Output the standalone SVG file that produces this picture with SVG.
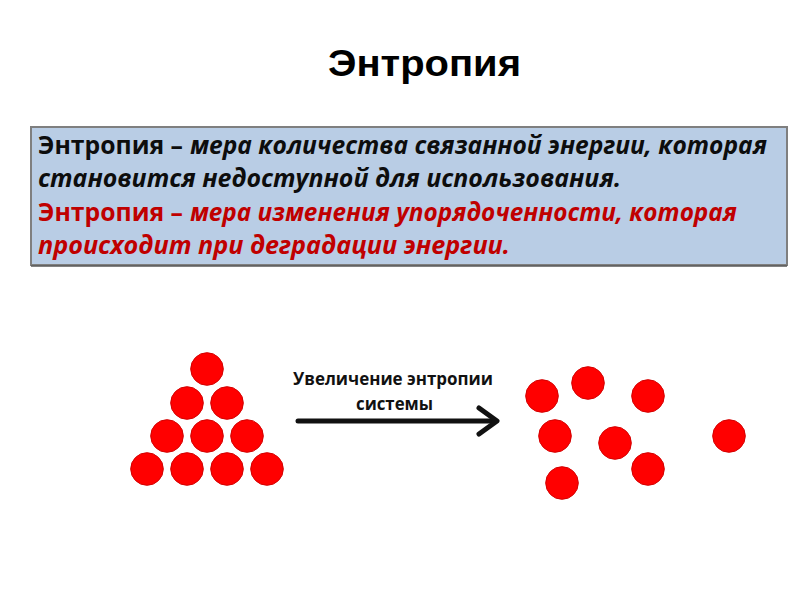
<svg xmlns="http://www.w3.org/2000/svg" width="797" height="600" viewBox="0 0 797 600">
<defs>
<style>
.title{font-family:"Liberation Sans",Arial,sans-serif;font-weight:bold;font-size:36px;fill:#000}
.def{font-family:"Open Sans","Noto Sans",sans-serif;font-weight:bold;font-size:24.5px}
.it{font-style:italic}
.blk{fill:#0d0d0d}
.red{fill:#c00000}
.lbl{font-family:"Open Sans","Noto Sans",sans-serif;font-weight:bold;font-size:18px;fill:#111}
.ball{fill:#ff0000;stroke:#d40000;stroke-width:1}
.conn{fill:none;stroke:#111;stroke-width:5;stroke-linecap:round;stroke-linejoin:round}
</style>
</defs>
<rect width="797" height="600" fill="#ffffff"/>
<g id="title">
<text class="title" x="328" y="76" textLength="193" lengthAdjust="spacingAndGlyphs">Энтропия</text>
</g>
<g id="definition-box">
<rect x="31" y="127" width="756" height="138" fill="#b9cde5" stroke="#7f7f7f" stroke-width="2"/>
<line x1="31" y1="266" x2="787" y2="266" stroke="#595959" stroke-width="1.5"/>
<text class="def blk" x="38" y="154" textLength="145" lengthAdjust="spacingAndGlyphs">Энтропия –</text>
<text class="def it blk" x="190" y="154" textLength="577" lengthAdjust="spacingAndGlyphs">мера количества связанной энергии, которая</text>
<text class="def it blk" x="38" y="187" textLength="583" lengthAdjust="spacingAndGlyphs">становится недоступной для использования.</text>
<text class="def red" x="38" y="221" textLength="145" lengthAdjust="spacingAndGlyphs">Энтропия –</text>
<text class="def it red" x="190" y="221" textLength="547" lengthAdjust="spacingAndGlyphs">мера изменения упорядоченности, которая</text>
<text class="def it red" x="38" y="254" textLength="472" lengthAdjust="spacingAndGlyphs">происходит при деградации энергии.</text>
</g>
<g id="ordered-system">
<circle class="ball" cx="207" cy="369" r="16.3"/>
<circle class="ball" cx="187" cy="403" r="16.3"/>
<circle class="ball" cx="227" cy="403" r="16.3"/>
<circle class="ball" cx="167" cy="436" r="16.3"/>
<circle class="ball" cx="207" cy="436" r="16.3"/>
<circle class="ball" cx="247" cy="436" r="16.3"/>
<circle class="ball" cx="147" cy="469" r="16.3"/>
<circle class="ball" cx="187" cy="469" r="16.3"/>
<circle class="ball" cx="227" cy="469" r="16.3"/>
<circle class="ball" cx="267" cy="469" r="16.3"/>
</g>
<g id="disordered-system">
<circle class="ball" cx="542" cy="396" r="16.3"/>
<circle class="ball" cx="588" cy="383" r="16.3"/>
<circle class="ball" cx="648" cy="396" r="16.3"/>
<circle class="ball" cx="555" cy="436" r="16.3"/>
<circle class="ball" cx="615" cy="443" r="16.3"/>
<circle class="ball" cx="648" cy="469" r="16.3"/>
<circle class="ball" cx="562" cy="483" r="16.3"/>
<circle class="ball" cx="729" cy="436" r="16.3"/>
</g>
<g id="connectors">
<line class="conn" x1="298" y1="421" x2="495" y2="421"/>
<polyline class="conn" points="479,408 497,421 479,434"/>
</g>
<g id="arrow-label">
<text class="lbl" x="293" y="385" textLength="200" lengthAdjust="spacingAndGlyphs">Увеличение энтропии</text>
<text class="lbl" x="356" y="410" textLength="77" lengthAdjust="spacingAndGlyphs">системы</text>
</g>
</svg>
